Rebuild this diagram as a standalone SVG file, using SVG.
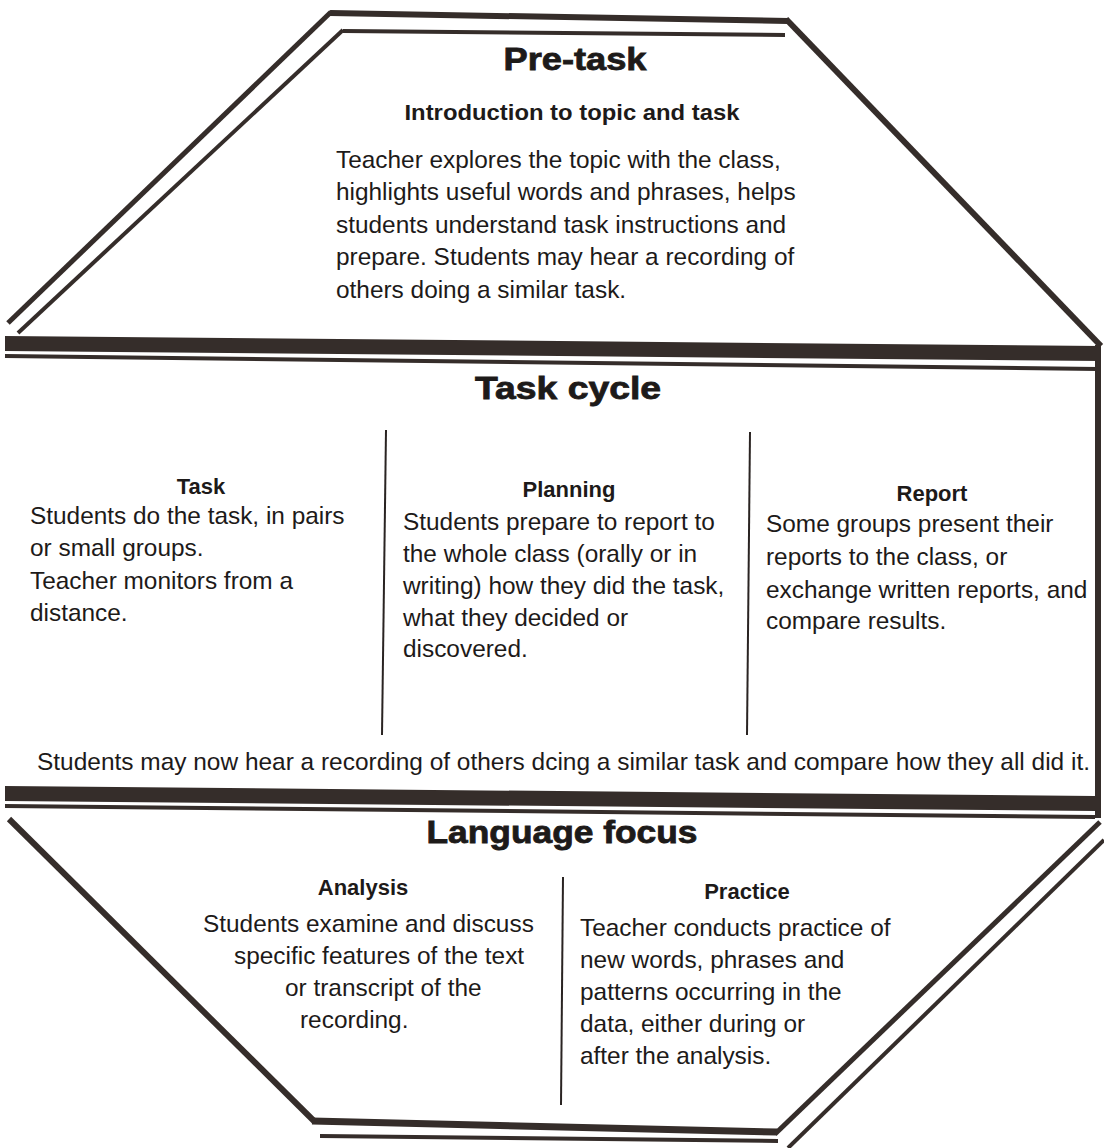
<svg xmlns="http://www.w3.org/2000/svg" width="1104" height="1148" viewBox="0 0 1104 1148">
  <style>
    .rule { stroke: #352d2a; fill: none; stroke-linecap: butt; }
    .band { fill: #352d2a; }
    .div { stroke: #2a2422; stroke-width: 2; fill: none; }
    text { font-family: "Liberation Sans", Arial, Helvetica, sans-serif; fill: #1d1a19; }
    .title { font-size: 31px; font-weight: bold; stroke: #1d1a19; stroke-width: 0.8; text-anchor: middle; }
    .head { font-size: 22px; font-weight: bold; text-anchor: middle; }
    .body { font-size: 24.4px; }
  </style>

  <rect x="0" y="0" width="1104" height="1148" fill="#ffffff"/>

  <!-- octagon frame: double rules, bands and side -->
  <g id="frame">
    <!-- top edge -->
    <line class="rule" x1="330" y1="13" x2="788" y2="21" stroke-width="6"/>
    <line class="rule" x1="343" y1="31" x2="785" y2="35" stroke-width="4"/>
    <!-- upper left diagonals -->
    <line class="rule" x1="331" y1="12" x2="8" y2="323" stroke-width="5"/>
    <line class="rule" x1="343" y1="30" x2="18" y2="333" stroke-width="4"/>
    <!-- upper right diagonal -->
    <line class="rule" x1="786" y1="19" x2="1101" y2="346" stroke-width="6"/>
    <!-- band between pre-task and task cycle -->
    <polygon class="band" points="5,336 1100,346 1100,361 5,351"/>
    <line class="rule" x1="5" y1="356" x2="1098" y2="369" stroke-width="4"/>
    <!-- right side of the task cycle -->
    <line class="rule" x1="1098" y1="345" x2="1098" y2="818" stroke-width="6"/>
    <!-- band between task cycle and language focus -->
    <polygon class="band" points="5,786 1095,796 1095,811 5,801"/>
    <line class="rule" x1="5" y1="806" x2="1095" y2="817" stroke-width="4"/>
    <!-- lower left diagonal -->
    <line class="rule" x1="9" y1="819" x2="314" y2="1121" stroke-width="6"/>
    <!-- bottom edge -->
    <line class="rule" x1="312" y1="1121" x2="777" y2="1132" stroke-width="7"/>
    <line class="rule" x1="320" y1="1136" x2="778" y2="1141" stroke-width="4"/>
    <!-- lower right diagonals -->
    <line class="rule" x1="775" y1="1134" x2="1100" y2="822" stroke-width="5"/>
    <line class="rule" x1="788" y1="1148" x2="1104" y2="840" stroke-width="4"/>
  </g>

  <!-- column dividers -->
  <g id="dividers">
    <line class="div" x1="386" y1="430" x2="382" y2="735"/>
    <line class="div" x1="750" y1="432" x2="747" y2="735"/>
    <line class="div" x1="563" y1="877" x2="561" y2="1105"/>
  </g>

  <!-- pre-task -->
  <g id="pre-task">
    <text class="title" x="575" y="70" textLength="143" lengthAdjust="spacingAndGlyphs">Pre-task</text>
    <text class="head" x="572" y="120" textLength="335" lengthAdjust="spacingAndGlyphs">Introduction to topic and task</text>
    <text class="body" x="336" y="168">Teacher explores the topic with the class,</text>
    <text class="body" x="336" y="200">highlights useful words and phrases, helps</text>
    <text class="body" x="336" y="233">students understand task instructions and</text>
    <text class="body" x="336" y="265">prepare. Students may hear a recording of</text>
    <text class="body" x="336" y="298">others doing a similar task.</text>
  </g>

  <!-- task cycle -->
  <g id="task-cycle">
    <text class="title" x="568" y="399" textLength="186" lengthAdjust="spacingAndGlyphs">Task cycle</text>
  </g>

  <g id="task">
    <text class="head" x="201" y="494">Task</text>
    <text class="body" x="30" y="524">Students do the task, in pairs</text>
    <text class="body" x="30" y="556">or small groups.</text>
    <text class="body" x="30" y="589">Teacher monitors from a</text>
    <text class="body" x="30" y="621">distance.</text>
  </g>

  <g id="planning">
    <text class="head" x="569" y="497">Planning</text>
    <text class="body" x="403" y="530">Students prepare to report to</text>
    <text class="body" x="403" y="562">the whole class (orally or in</text>
    <text class="body" x="403" y="594">writing) how they did the task,</text>
    <text class="body" x="403" y="626">what they decided or</text>
    <text class="body" x="403" y="657">discovered.</text>
  </g>

  <g id="report">
    <text class="head" x="932" y="501">Report</text>
    <text class="body" x="766" y="532">Some groups present their</text>
    <text class="body" x="766" y="565">reports to the class, or</text>
    <text class="body" x="766" y="598">exchange written reports, and</text>
    <text class="body" x="766" y="629">compare results.</text>
  </g>

  <g id="task-cycle-note">
    <text class="body" x="37" y="770" textLength="1053" lengthAdjust="spacingAndGlyphs">Students may now hear a recording of others dcing a similar task and compare how they all did it.</text>
  </g>

  <!-- language focus -->
  <g id="language-focus">
    <text class="title" x="562" y="843" textLength="271" lengthAdjust="spacingAndGlyphs">Language focus</text>
  </g>

  <g id="analysis">
    <text class="head" x="363" y="895">Analysis</text>
    <text class="body" x="203" y="932">Students examine and discuss</text>
    <text class="body" x="234" y="964">specific features of the text</text>
    <text class="body" x="285" y="996">or transcript of the</text>
    <text class="body" x="300" y="1028">recording.</text>
  </g>

  <g id="practice">
    <text class="head" x="747" y="899">Practice</text>
    <text class="body" x="580" y="936">Teacher conducts practice of</text>
    <text class="body" x="580" y="968">new words, phrases and</text>
    <text class="body" x="580" y="1000">patterns occurring in the</text>
    <text class="body" x="580" y="1032">data, either during or</text>
    <text class="body" x="580" y="1064">after the analysis.</text>
  </g>
</svg>
